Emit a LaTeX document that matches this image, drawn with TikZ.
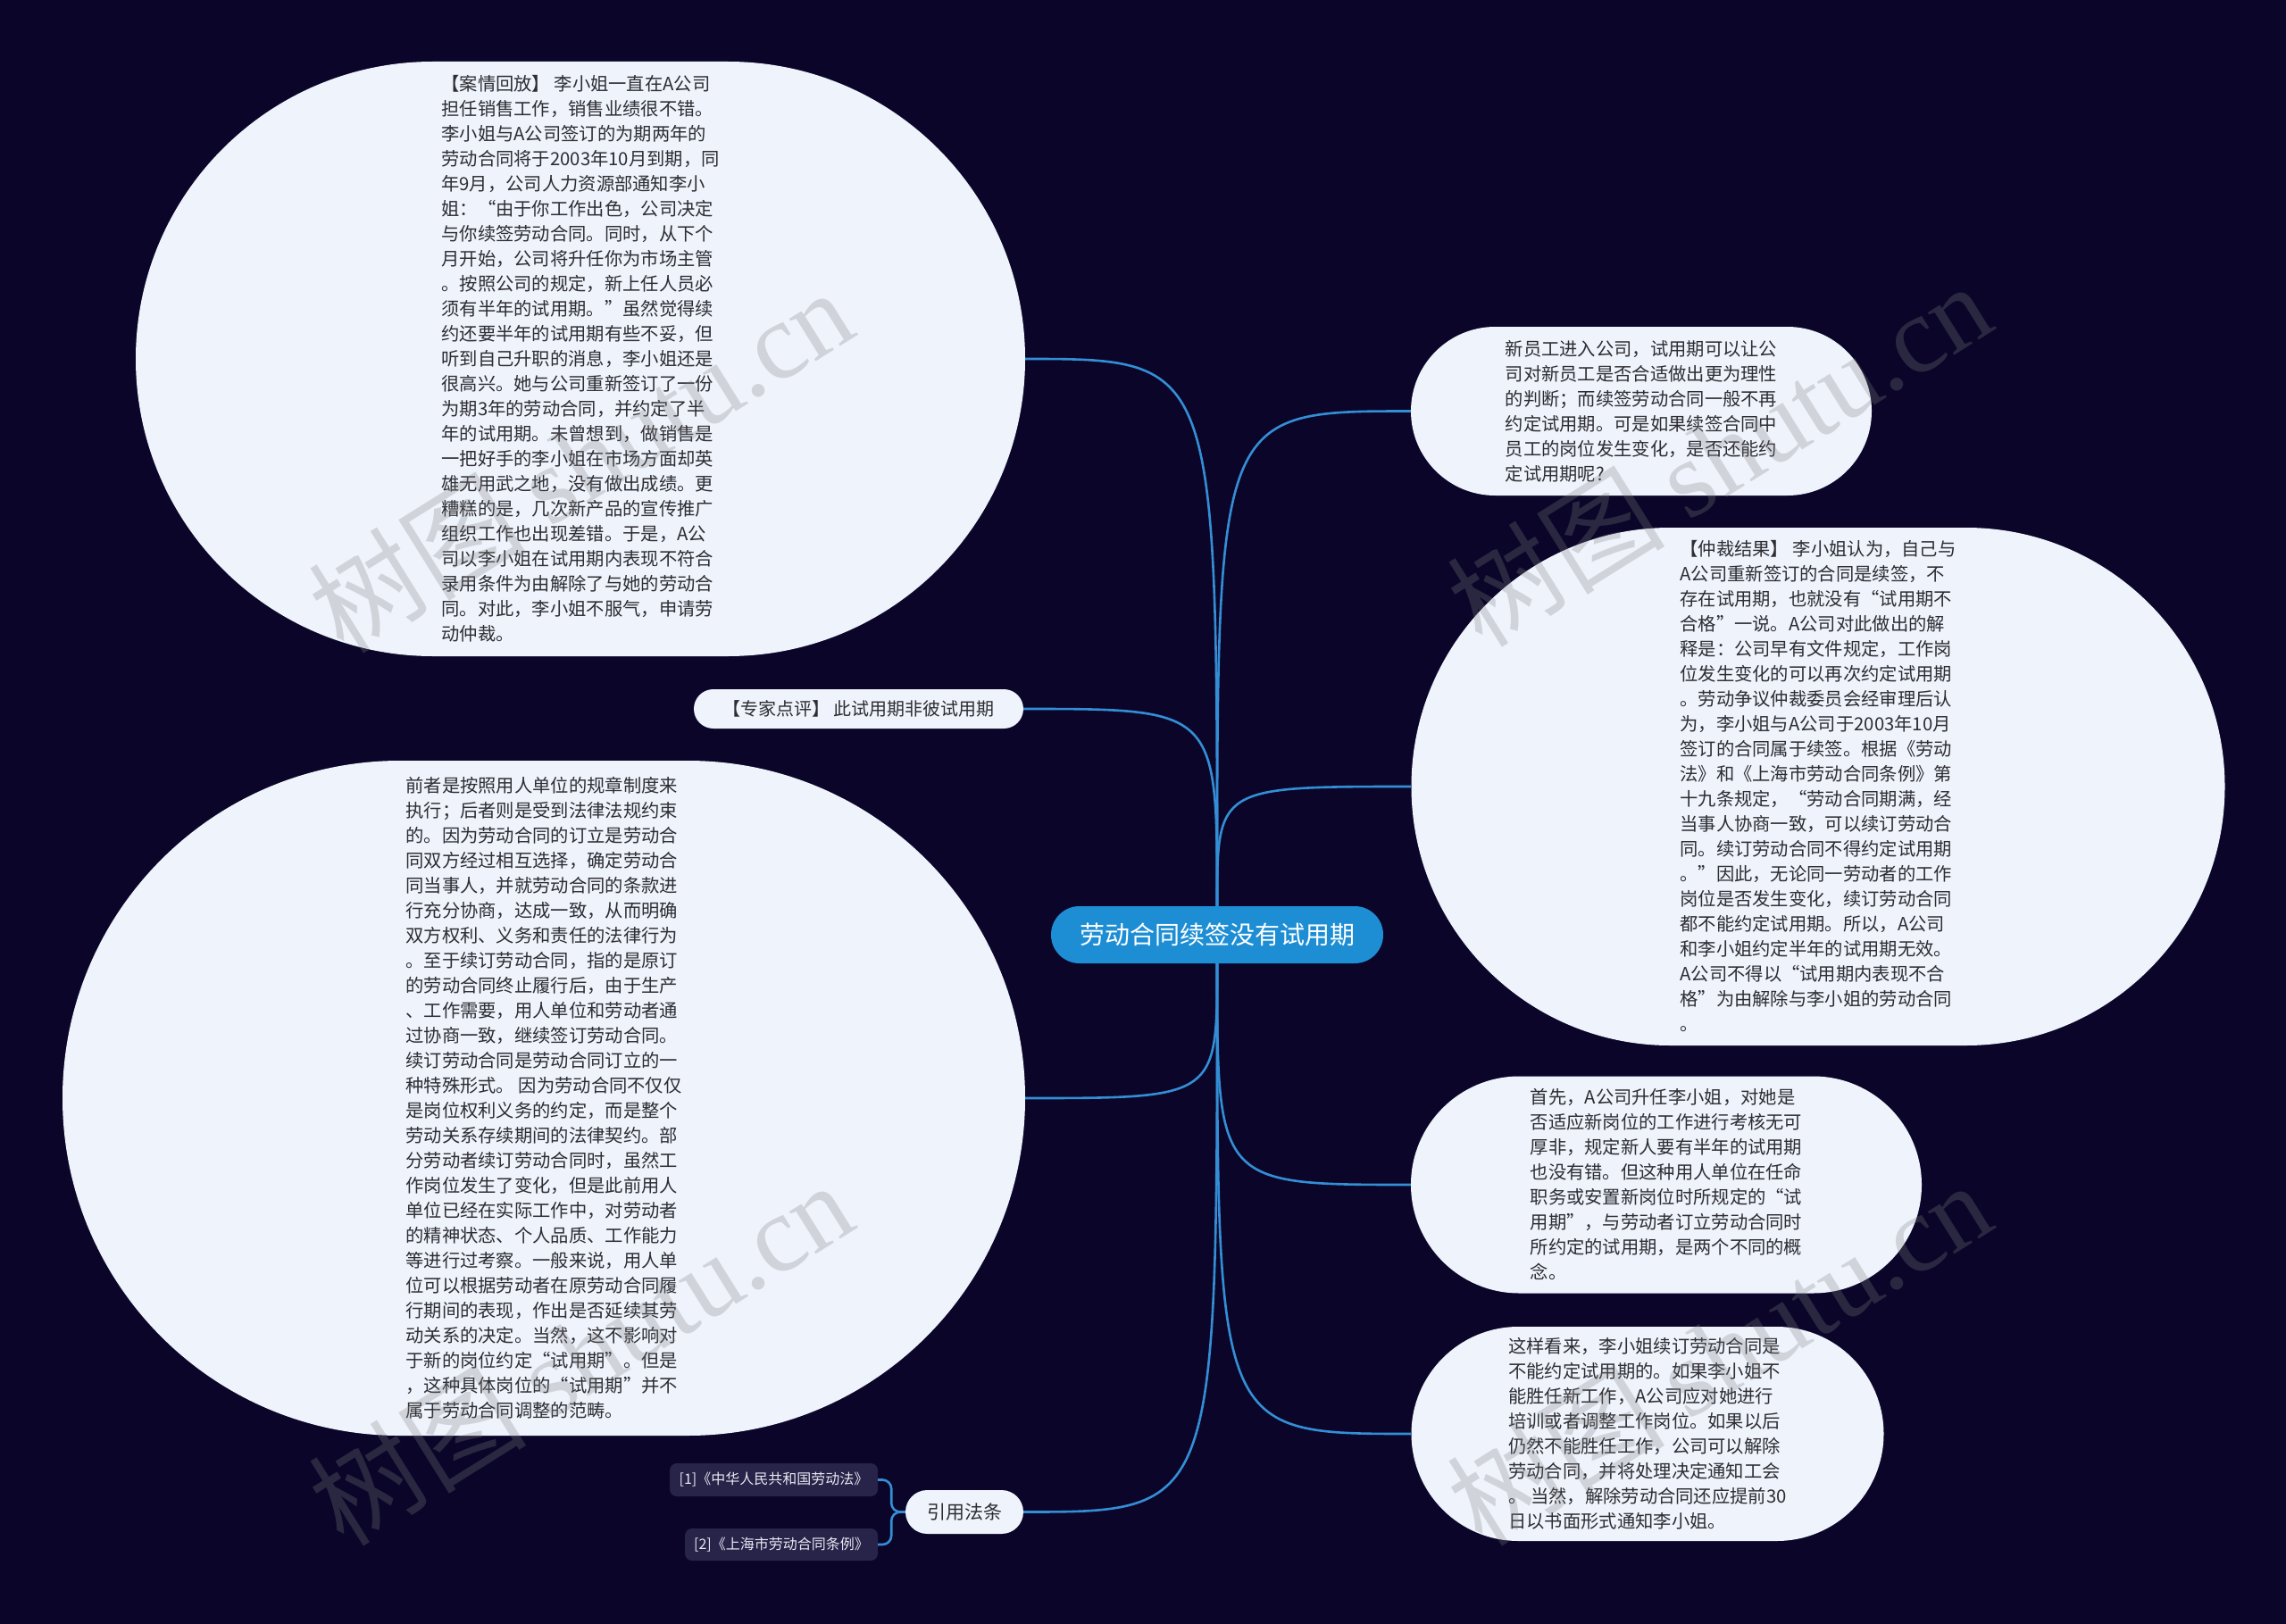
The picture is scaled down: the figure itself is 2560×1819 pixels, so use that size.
\documentclass[tikz,border=0pt]{standalone}
\usepackage{fontspec}
\setmainfont{Noto Sans CJK SC}
\newfontfamily\wmfont{Liberation Serif}
\usetikzlibrary{calc}
\definecolor{bg}{RGB}{11,6,41}
\definecolor{nodefill}{RGB}{238,243,252}
\definecolor{nodetext}{RGB}{45,45,50}
\definecolor{conncol}{RGB}{52,142,214}
\definecolor{rootfill}{RGB}{30,142,212}
\definecolor{reffill}{RGB}{40,35,72}
\definecolor{reftext}{RGB}{232,232,242}
\tikzset{
  bubble/.style={rectangle, fill=nodefill, text=nodetext, align=left, inner sep=0pt,
    font=\fontsize{20.3}{28}\selectfont},
  pillnode/.style={rectangle, fill=nodefill, text=nodetext, inner sep=0pt},
  rootnode/.style={rectangle, fill=rootfill, text=white, inner sep=0pt,
    font=\fontsize{28}{32}\selectfont},
  refbox/.style={rectangle, fill=reffill, text=reftext, inner sep=0pt, rounded corners=8pt,
    font=\fontsize{16}{20}\selectfont},
  conn/.style={draw=conncol, line width=2.6pt},
  wm/.style={text=gray, opacity=0.27, font=\fontsize{122}{130}\selectfont}
}
\begin{document}
\begin{tikzpicture}[x=1pt,y=-1pt]
\fill[bg] (0,0) rectangle (2560,1819);
\useasboundingbox (0,0) rectangle (2560,1819);

% root
\node[rootnode, minimum width=372pt, minimum height=64pt, rounded corners=31.9pt] (root) at (1363,1047) {劳动合同续签没有试用期};

% top-left case
\node[bubble, minimum width=996pt, minimum height=666pt, rounded corners=332.9pt] (case) at (650,402) {%
【案情回放】 李小姐一直在A公司\\
担任销售工作，销售业绩很不错。\\
李小姐与A公司签订的为期两年的\\
劳动合同将于2003年10月到期，同\\
年9月，公司人力资源部通知李小\\
姐：“由于你工作出色，公司决定\\
与你续签劳动合同。同时，从下个\\
月开始，公司将升任你为市场主管\\
。按照公司的规定，新上任人员必\\
须有半年的试用期。”虽然觉得续\\
约还要半年的试用期有些不妥，但\\
听到自己升职的消息，李小姐还是\\
很高兴。她与公司重新签订了一份\\
为期3年的劳动合同，并约定了半\\
年的试用期。未曾想到，做销售是\\
一把好手的李小姐在市场方面却英\\
雄无用武之地，没有做出成绩。更\\
糟糕的是，几次新产品的宣传推广\\
组织工作也出现差错。于是，A公\\
司以李小姐在试用期内表现不符合\\
录用条件为由解除了与她的劳动合\\
同。对此，李小姐不服气，申请劳\\
动仲裁。};

% expert comment
\node[pillnode, minimum width=369pt, minimum height=44pt, rounded corners=21.9pt,
  font=\fontsize{20}{24}\selectfont] (expert) at (961.5,794) {【专家点评】 此试用期非彼试用期};

% left big
\node[bubble, minimum width=1078pt, minimum height=756pt, rounded corners=377.9pt] (explain) at (609,1230) {%
前者是按照用人单位的规章制度来\\
执行；后者则是受到法律法规约束\\
的。因为劳动合同的订立是劳动合\\
同双方经过相互选择，确定劳动合\\
同当事人，并就劳动合同的条款进\\
行充分协商，达成一致，从而明确\\
双方权利、义务和责任的法律行为\\
。至于续订劳动合同，指的是原订\\
的劳动合同终止履行后，由于生产\\
、工作需要，用人单位和劳动者通\\
过协商一致，继续签订劳动合同。\\
续订劳动合同是劳动合同订立的一\\
种特殊形式。 因为劳动合同不仅仅\\
是岗位权利义务的约定，而是整个\\
劳动关系存续期间的法律契约。部\\
分劳动者续订劳动合同时，虽然工\\
作岗位发生了变化，但是此前用人\\
单位已经在实际工作中，对劳动者\\
的精神状态、个人品质、工作能力\\
等进行过考察。一般来说，用人单\\
位可以根据劳动者在原劳动合同履\\
行期间的表现，作出是否延续其劳\\
动关系的决定。当然，这不影响对\\
于新的岗位约定“试用期”。但是\\
，这种具体岗位的“试用期”并不\\
属于劳动合同调整的范畴。};

% references group
\node[pillnode, minimum width=132pt, minimum height=49pt, rounded corners=24.4pt,
  font=\fontsize{21}{24}\selectfont] (law) at (1080,1693.5) {引用法条};
\node[refbox, minimum width=233pt, minimum height=37pt] (ref1) at (866.5,1657.5) {[1]《中华人民共和国劳动法》};
\node[refbox, minimum width=216pt, minimum height=36pt] (ref2) at (875,1730) {[2]《上海市劳动合同条例》};

% right: new employee
\node[bubble, minimum width=516pt, minimum height=189pt, rounded corners=94.4pt] (newemp) at (1838,460.5) {%
新员工进入公司，试用期可以让公\\
司对新员工是否合适做出更为理性\\
的判断；而续签劳动合同一般不再\\
约定试用期。可是如果续签合同中\\
员工的岗位发生变化，是否还能约\\
定试用期呢?};

% right: arbitration
\node[bubble, minimum width=911pt, minimum height=580pt, rounded corners=289.9pt] (arb) at (2036,881) {%
【仲裁结果】 李小姐认为，自己与\\
A公司重新签订的合同是续签，不\\
存在试用期，也就没有“试用期不\\
合格”一说。A公司对此做出的解\\
释是：公司早有文件规定，工作岗\\
位发生变化的可以再次约定试用期\\
。劳动争议仲裁委员会经审理后认\\
为，李小姐与A公司于2003年10月\\
签订的合同属于续签。根据《劳动\\
法》和《上海市劳动合同条例》第\\
十九条规定，“劳动合同期满，经\\
当事人协商一致，可以续订劳动合\\
同。续订劳动合同不得约定试用期\\
。”因此，无论同一劳动者的工作\\
岗位是否发生变化，续订劳动合同\\
都不能约定试用期。所以，A公司\\
和李小姐约定半年的试用期无效。\\
A公司不得以“试用期内表现不合\\
格”为由解除与李小姐的劳动合同\\
。};

% right: first
\node[bubble, minimum width=572pt, minimum height=243pt, rounded corners=121.4pt] (first) at (1866,1327) {%
首先，A公司升任李小姐，对她是\\
否适应新岗位的工作进行考核无可\\
厚非，规定新人要有半年的试用期\\
也没有错。但这种用人单位在任命\\
职务或安置新岗位时所规定的“试\\
用期”，与劳动者订立劳动合同时\\
所约定的试用期，是两个不同的概\\
念。};

% right: so
\node[bubble, minimum width=529pt, minimum height=240pt, rounded corners=119.9pt] (concl) at (1845,1606) {%
这样看来，李小姐续订劳动合同是\\
不能约定试用期的。如果李小姐不\\
能胜任新工作，A公司应对她进行\\
培训或者调整工作岗位。如果以后\\
仍然不能胜任工作，公司可以解除\\
劳动合同，并将处理决定通知工会\\
。 当然，解除劳动合同还应提前30\\
日以书面形式通知李小姐。};

% connectors
\draw[conn] (root.north) .. controls (root.north |- case.east) .. (case.east);
\draw[conn] (root.north) .. controls (root.north |- expert.east) .. (expert.east);
\draw[conn] (root.north) .. controls (root.north |- newemp.west) .. (newemp.west);
\draw[conn] (root.north) .. controls (root.north |- arb.west) .. (arb.west);
\draw[conn] (root.south) .. controls (root.south |- explain.east) .. (explain.east);
\draw[conn] (root.south) .. controls (root.south |- first.west) .. (first.west);
\draw[conn] (root.south) .. controls (root.south |- concl.west) .. (concl.west);
\draw[conn] (root.south) .. controls (root.south |- law.east) .. (law.east);
\draw[conn, rounded corners=10pt] (law.west) -| ($(ref1.east)+(15,0)$) -- (ref1.east);
\draw[conn, rounded corners=10pt] (law.west) -| ($(ref2.east)+(15,0)$) -- (ref2.east);

% watermarks
\node[wm, rotate=32] at (650,515) {树图 {\wmfont shutu.cn}};
\node[wm, rotate=32] at (650,1515) {树图 {\wmfont shutu.cn}};
\node[wm, rotate=32] at (1925,508) {树图 {\wmfont shutu.cn}};
\node[wm, rotate=32] at (1925,1515) {树图 {\wmfont shutu.cn}};
\end{tikzpicture}
\end{document}
